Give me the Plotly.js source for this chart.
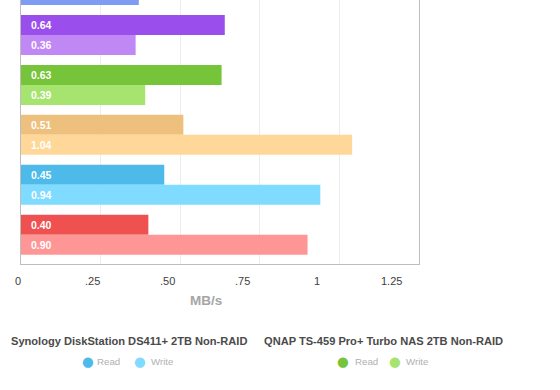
<!DOCTYPE html>
<html>
<head>
<meta charset="utf-8">
<script src="https://cdn.plot.ly/plotly-3.0.1.min.js"></script>
<style>html,body{margin:0;padding:0;background:#fff;}#chart{width:560px;height:390px;}</style>
</head>
<body>
<div id="chart"></div>
<script>
// ---- data ----
const devices = [
  'Device (cut off at top)',
  'Device (purple)',
  'QNAP TS-459 Pro+ Turbo NAS 2TB Non-RAID',
  'Device (orange)',
  'Synology DiskStation DS411+ 2TB Non-RAID',
  'Device (red)'
];
const readValues  = [null, 0.64, 0.63, 0.51, 0.45, 0.40];
const writeValues = [0.37, 0.36, 0.39, 1.04, 0.94, 0.90];
const readColors  = ['#5f7fe8', '#9a4eec', '#76c43a', '#eec07e', '#4dbaea', '#ef5050'];
const writeColors = ['#7e9cf2', '#c088f5', '#a6e36f', '#ffd899', '#7fdbff', '#ff9696'];
const tickVals  = [0, 0.25, 0.5, 0.75, 1, 1.25];
const tickText  = ['0', '.25', '.50', '.75', '1', '1.25'];
const axisTitle = 'MB/s';
const seriesNames = ['Read', 'Write'];
const legendDevices = [4, 2]; // indices into devices shown in the legend

// ---- layout geometry ----
const W = 560, H = 390;
const M = {l: 21, r: 141, t: 0, b: 126};
const plotW = W - M.l - M.r, plotH = H - M.t - M.b;
const px = X => (X - M.l) / plotW;
const py = Y => (H - M.b - Y) / plotH;
const FONT = '"Liberation Sans", Arial, Helvetica, sans-serif';
const lblStart = 18.3, lblScale = (391.7 - 18.3) / 1.25; // tick-label row placement (px)

const traces = [];
devices.forEach((d, i) => {
  traces.push({
    type: 'bar', orientation: 'h', name: d + ' – Read',
    y: [i], x: [readValues[i]], offsetgroup: 'read',
    marker: {color: readColors[i]}, showlegend: false, hoverinfo: 'x'
  });
  traces.push({
    type: 'bar', orientation: 'h', name: d + ' – Write',
    y: [i], x: [writeValues[i]], offsetgroup: 'write',
    marker: {color: writeColors[i]}, showlegend: false, hoverinfo: 'x'
  });
});

const annotations = [];
devices.forEach((d, i) => {
  [[readValues, -0.2], [writeValues, 0.2]].forEach(([arr, off]) => {
    if (arr[i] === null) return;
    annotations.push({
      x: 0, y: i + off, xref: 'x', yref: 'y', xanchor: 'left', yanchor: 'middle',
      xshift: 8, showarrow: false, text: arr[i].toFixed(2),
      font: {family: FONT, size: 10.5, color: '#ffffff', weight: 'bold'}
    });
  });
});

// tick labels row
tickVals.forEach((v, k) => {
  annotations.push({
    x: px(lblStart + v * lblScale), y: py(280.7), xref: 'paper', yref: 'paper',
    xanchor: 'center', yanchor: 'middle', showarrow: false, text: tickText[k],
    font: {family: FONT, size: 11, color: '#404040'}
  });
});

// axis title
annotations.push({
  x: px(205.5), y: py(300.5), xref: 'paper', yref: 'paper', xanchor: 'center', yanchor: 'middle',
  showarrow: false, text: '<b>' + axisTitle + '</b>',
  font: {family: FONT, size: 13.5, color: '#a6a6a6'}
});

// legend built from device colours
const legendPos = [
  {title: 129, dot1: 88.3, txt1: 95, dot2: 140.2, txt2: 148.5},
  {title: 383.5, dot1: 343.3, txt1: 352.5, dot2: 395, txt2: 403.5}
];
legendDevices.forEach((di, k) => {
  const p = legendPos[k];
  annotations.push({
    x: px(p.title), y: py(341), xref: 'paper', yref: 'paper', xanchor: 'center', yanchor: 'middle',
    showarrow: false, text: '<b>' + devices[di] + '</b>',
    font: {family: FONT, size: 11.1, color: '#4a4a4a'}
  });
  [[p.dot1, p.txt1, readColors[di], seriesNames[0]], [p.dot2, p.txt2, writeColors[di], seriesNames[1]]].forEach(([dx, tx, c, s]) => {
    annotations.push({
      x: px(dx), y: py(361), xref: 'paper', yref: 'paper', xanchor: 'center', yanchor: 'middle',
      showarrow: false, text: '●', font: {family: 'DejaVu Sans', size: 13.5, color: c}
    });
    annotations.push({
      x: px(tx), y: py(361.5), xref: 'paper', yref: 'paper', xanchor: 'left', yanchor: 'middle',
      showarrow: false, text: s, font: {family: FONT, size: 9.7, color: '#b0b0b0'}
    });
  });
});

const layout = {
  width: W, height: H, margin: M,
  paper_bgcolor: '#ffffff', plot_bgcolor: '#ffffff',
  barmode: 'group', bargap: 0.2, bargroupgap: 0,
  showlegend: false,
  font: {family: FONT},
  xaxis: {
    range: [0, 1.25], tickvals: tickVals, showticklabels: false,
    showgrid: true, gridcolor: '#ececec', gridwidth: 1, zeroline: false,
    showline: true, linecolor: '#bdbdbd', linewidth: 1, ticks: ''
  },
  yaxis: {
    range: [5.586, 0.3], showticklabels: false, showgrid: false, zeroline: false,
    showline: true, mirror: true, linecolor: '#bdbdbd', linewidth: 1, ticks: ''
  },
  annotations: annotations
};

Plotly.newPlot('chart', traces, layout, {displayModeBar: false, staticPlot: true});
</script>
</body>
</html>
